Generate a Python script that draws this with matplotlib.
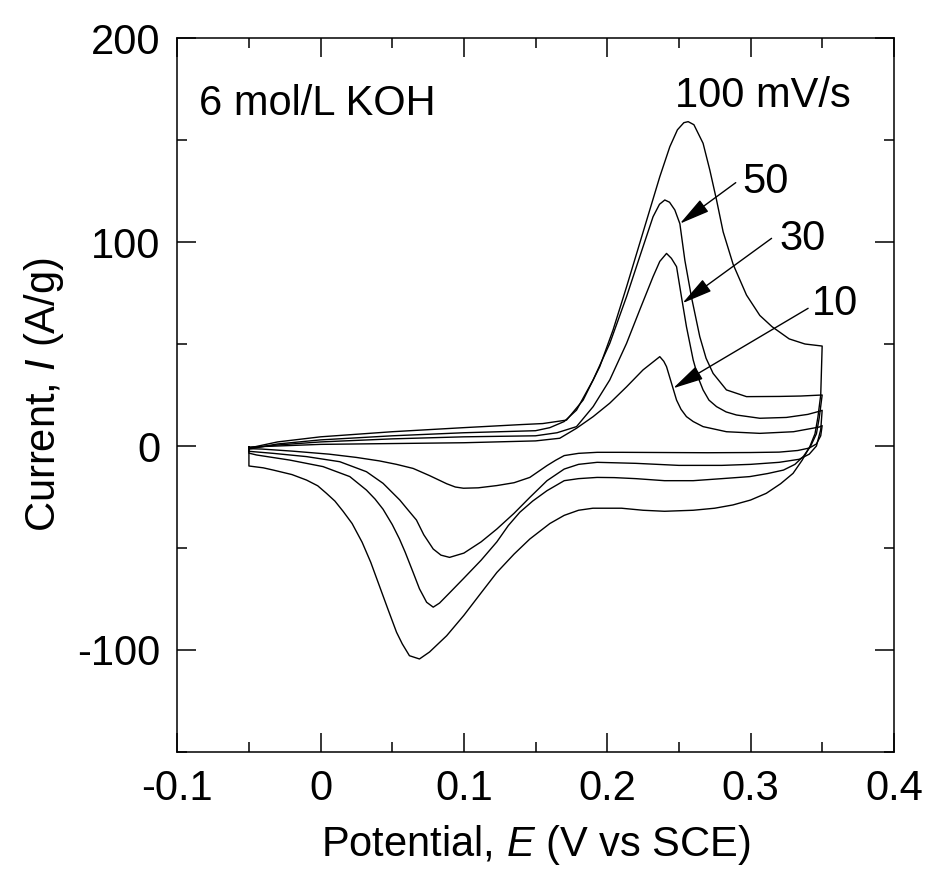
import numpy as np
import matplotlib.pyplot as plt
from matplotlib.ticker import MultipleLocator

plt.rcParams['font.family'] = ['Liberation Sans', 'DejaVu Sans']
plt.rcParams['mathtext.fontset'] = 'custom'
plt.rcParams['mathtext.rm'] = 'Liberation Sans'
plt.rcParams['mathtext.it'] = 'Liberation Sans:italic'

# CV curves, (E in V vs SCE, I in A/g)
# fwd = anodic sweep (-0.05 -> 0.35), rev = cathodic sweep (0.35 -> -0.05)
cv100_fwd = np.array([
    (-0.05, -1), (-0.03, 2), (0.0, 4.5), (0.05, 7), (0.10, 9), (0.14, 10.5),
    (0.155, 11), (0.1716, 12.7), (0.1832, 22.5), (0.1948, 38.9), (0.2041, 56.9),
    (0.2135, 78), (0.2227, 99.4), (0.2297, 115.7), (0.2367, 132), (0.2437, 146.7),
    (0.249, 155), (0.2535, 158.5), (0.2565, 159), (0.2605, 157.5), (0.2669, 148.4),
    (0.2716, 135.3), (0.2763, 120.6), (0.2809, 105), (0.2879, 89), (0.2972, 74),
    (0.3065, 64), (0.315, 58.5), (0.327, 52.5), (0.338, 50), (0.350, 49)])
cv100_rev = np.array([
    (0.350, 49), (0.349, 25), (0.347, 14), (0.345, 6), (0.3414, -0.3), (0.336, -7),
    (0.3297, -13.4), (0.321, -18.5), (0.311, -23.2), (0.300, -26.5), (0.2877, -28.9),
    (0.275, -30.5), (0.26, -31.5), (0.24, -32), (0.225, -31.5), (0.21, -30.5),
    (0.19, -30.5), (0.18, -31.5), (0.17, -34), (0.160, -38), (0.146, -45.6),
    (0.135, -53), (0.123, -62), (0.112, -72), (0.100, -83), (0.088, -93),
    (0.076, -101), (0.069, -104.4), (0.062, -102.8), (0.057, -97), (0.053, -91.3),
    (0.047, -80), (0.041, -68.5), (0.035, -57), (0.029, -47.2), (0.022, -38),
    (0.0157, -32), (0.010, -27), (0.0041, -23.2), (-0.002, -19.5), (-0.0098, -16.7),
    (-0.02, -14), (-0.033, -11.8), (-0.040, -10.7), (-0.050, -9.8), (-0.05, -1)])

cv50_fwd = np.array([
    (-0.05, -1.5), (-0.03, 1), (0.0, 3), (0.05, 5), (0.10, 6.5), (0.15, 7.5),
    (0.16, 9), (0.17, 12), (0.1786, 17.6), (0.1902, 32.4), (0.2018, 50.3),
    (0.2135, 73.2), (0.2227, 92.8), (0.232, 112.4), (0.2365, 118.5), (0.2402, 120.6),
    (0.2435, 119.5), (0.2472, 115.7), (0.2507, 109), (0.2542, 91), (0.2588, 73),
    (0.2646, 53.6), (0.269, 43), (0.2739, 35.6), (0.2832, 27.5), (0.2972, 24.2),
    (0.32, 24.3), (0.335, 24.5), (0.350, 25)])
cv50_rev = np.array([
    (0.350, 25), (0.348, 14), (0.346, 6), (0.342, 0), (0.337, -5), (0.331, -9),
    (0.323, -11.8), (0.312, -13.5), (0.2995, -15), (0.28, -16), (0.26, -17),
    (0.24, -17), (0.22, -16), (0.205, -15.5), (0.193, -15.4), (0.180, -16),
    (0.170, -17), (0.158, -21.9), (0.148, -27), (0.139, -32.5), (0.131, -39),
    (0.123, -47), (0.112, -56), (0.0997, -65), (0.090, -72), (0.083, -77),
    (0.0786, -79), (0.074, -76.6), (0.069, -70), (0.0646, -62), (0.059, -52),
    (0.055, -45.5), (0.050, -38.5), (0.0436, -31), (0.038, -26), (0.032, -21.6),
    (0.0204, -15), (0.0017, -10.1), (-0.0215, -6.9), (-0.0447, -4.4),
    (-0.050, -3.5), (-0.05, -1.5)])

cv30_fwd = np.array([
    (-0.05, -1), (-0.03, 0.5), (0.0, 2), (0.05, 3.5), (0.10, 4.5), (0.15, 5),
    (0.165, 6.5), (0.1786, 9.5), (0.1902, 19.3), (0.2018, 32.4), (0.2135, 50.3),
    (0.2227, 66.7), (0.232, 83), (0.2367, 90.5), (0.2414, 94.4), (0.2448, 92),
    (0.2484, 87.9), (0.2518, 73.2), (0.2553, 58.5), (0.26, 42.2), (0.2635, 33.5),
    (0.2669, 27.5), (0.271, 22.5), (0.2763, 19.3), (0.283, 16.7), (0.2902, 15.2),
    (0.3065, 13.6), (0.325, 14), (0.34, 15.5), (0.348, 17), (0.350, 17.5)])
cv30_rev = np.array([
    (0.350, 17.5), (0.349, 8), (0.346, 0), (0.341, -4), (0.334, -6.5), (0.32, -8),
    (0.30, -9), (0.28, -9.5), (0.25, -9.5), (0.22, -8.5), (0.193, -8), (0.180, -9),
    (0.170, -11.3), (0.158, -17), (0.146, -25.2), (0.135, -33), (0.123, -40.7),
    (0.112, -47), (0.100, -52.5), (0.090, -54.6), (0.084, -53.5), (0.0786, -50.5),
    (0.072, -43.5), (0.0669, -36.3), (0.060, -30.5), (0.0553, -26.5), (0.0436, -18.3),
    (0.032, -12.6), (0.0134, -7.7), (-0.0098, -5.2), (-0.0331, -3.6),
    (-0.05, -2.6), (-0.05, -1)])

cv10_fwd = np.array([
    (-0.05, -0.5), (-0.03, 0), (0.0, 0.8), (0.05, 1.2), (0.10, 1.6), (0.15, 2.5),
    (0.1669, 3.8), (0.1786, 8.7), (0.1902, 14.4), (0.2018, 21), (0.2135, 29),
    (0.225, 37.3), (0.2367, 43.8), (0.2395, 41.5), (0.2414, 38.9), (0.2449, 30.7),
    (0.2484, 22.5), (0.2515, 18), (0.2553, 14.4), (0.26, 12), (0.2669, 9.5),
    (0.2832, 7.0), (0.3065, 6.2), (0.33, 7), (0.348, 9.3), (0.350, 10)])
cv10_rev = np.array([
    (0.350, 10), (0.349, 5), (0.346, 1), (0.341, -1), (0.333, -2.2), (0.32, -3),
    (0.30, -3.2), (0.27, -3.3), (0.24, -3.2), (0.21, -3.1), (0.193, -3.1),
    (0.180, -3.6), (0.170, -4.7), (0.164, -7), (0.158, -9.6), (0.152, -12.5),
    (0.146, -15.4), (0.135, -18), (0.123, -19.4), (0.110, -20.5), (0.0997, -20.7),
    (0.094, -20.1), (0.088, -18.5), (0.076, -14.5), (0.0646, -11), (0.053, -9),
    (0.041, -7.3), (0.025, -5.6), (0.006, -4.0), (-0.02, -2.5), (-0.041, -1.5),
    (-0.05, -1.3), (-0.05, -0.5)])

curves = [(cv100_fwd, cv100_rev), (cv50_fwd, cv50_rev),
          (cv30_fwd, cv30_rev), (cv10_fwd, cv10_rev)]

# arrow labels: text, text pos, arrow start, arrow tip
rate_labels = ['50', '30', '10']
label_pos = [(0.2946, 124), (0.3204, 96.1), (0.3428, 64.2)]
arrow_from = [(0.2897, 129.1), (0.3147, 101.8), (0.3402, 67.5)]
arrow_to = [(0.2507, 109), (0.2525, 70), (0.246, 28.3)]

fig = plt.figure(figsize=(9.33, 8.74), dpi=100)
ax = fig.add_axes([0.19, 0.1396, 0.768, 0.8169])

for fwd, rev in curves:
    loop = np.vstack([fwd, rev])
    ax.plot(loop[:, 0], loop[:, 1], color='k', lw=1.0)

ax.text(0.2472, 166.2, '100 mV/s', fontsize=30, ha='left', va='baseline')
ax.text(-0.085, 162.3, '6 mol/L KOH', fontsize=30, ha='left', va='baseline')
for lab, pos, a0, a1 in zip(rate_labels, label_pos, arrow_from, arrow_to):
    ax.text(pos[0], pos[1], lab, fontsize=30, ha='left', va='baseline')
    ax.annotate('', xy=a1, xytext=a0,
                arrowprops=dict(arrowstyle='-|>,head_length=1.9,head_width=0.45',
                                color='k', lw=1.0, shrinkA=0, shrinkB=0,
                                mutation_scale=10))

ax.set_xlim(-0.1, 0.4)
ax.set_ylim(-150, 200)
ax.set_xticks([-0.1, 0, 0.1, 0.2, 0.3, 0.4])
ax.set_xticklabels(['-0.1', '0', '0.1', '0.2', '0.3', '0.4'])
ax.set_yticks([-100, 0, 100, 200])
ax.set_yticklabels(['-100', '0', '100', '200'])
ax.xaxis.set_minor_locator(MultipleLocator(0.05))
ax.yaxis.set_minor_locator(MultipleLocator(50))
ax.tick_params(which='both', direction='in', top=True, right=True, width=1.1,
               labelsize=30)
ax.tick_params(which='major', length=14, pad=12)
ax.tick_params(which='minor', length=7)
for s in ax.spines.values():
    s.set_linewidth(1.1)

ax.set_xlabel('Potential, $E$ (V vs SCE)', fontsize=30, labelpad=10)
ax.set_ylabel('Current, $I$ (A/g)', fontsize=30, labelpad=8)

fig.savefig('out.png', dpi=100)
